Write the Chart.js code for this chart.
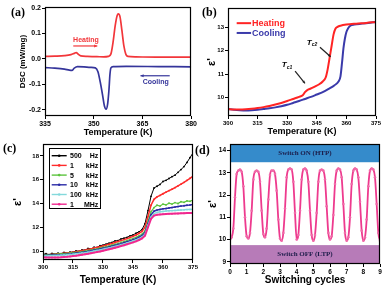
<!DOCTYPE html>
<html>
<head>
<meta charset="utf-8">
<script src="https://cdn.jsdelivr.net/npm/chart.js@4.4.1/dist/chart.umd.min.js"></script>
<style>
  body { margin: 0; background: #fff; width: 391px; height: 291px; overflow: hidden; position: relative; }
  canvas { position: absolute; }
  .tag { position: absolute; font: bold 12px "Liberation Serif", "Times New Roman", serif; line-height: 12px; color: #000; }
</style>
</head>
<body>
<canvas id="chartA" width="198" height="142" style="left:0;top:0"></canvas>
<canvas id="chartB" width="193" height="142" style="left:198px;top:0"></canvas>
<canvas id="chartC" width="199" height="153" style="left:0;top:138px"></canvas>
<canvas id="chartD" width="193" height="153" style="left:198px;top:138px"></canvas>
<div class="tag" style="left:11px;top:6px">(a)</div>
<div class="tag" style="left:202px;top:6px">(b)</div>
<div class="tag" style="left:3px;top:142px">(c)</div>
<div class="tag" style="left:195px;top:144px">(d)</div>
<script>
// (a) DSC
const dscHeatT = [335, 338, 341, 343, 344, 344.6, 345.3, 346, 348, 351, 353, 354.5, 355.3, 356, 356.6, 357.2, 357.6, 358.1, 358.7, 359.3, 359.9, 360.5, 363, 370, 380];
const dscHeat = [0.010, 0.011, 0.013, 0.017, 0.022, 0.025, 0.018, 0.012, 0.010, 0.009, 0.008, 0.010, 0.020, 0.070, 0.130, 0.170, 0.177, 0.165, 0.110, 0.050, 0.018, 0.010, 0.008, 0.007, 0.007];
const dscCoolT = [335, 338, 341, 342.5, 343.3, 344, 345, 347, 349, 350.5, 351.3, 352, 352.7, 353.3, 353.8, 354.3, 354.7, 355.0, 355.3, 356, 360, 370, 380];
const dscCool = [-0.034, -0.036, -0.040, -0.044, -0.045, -0.036, -0.030, -0.031, -0.033, -0.035, -0.050, -0.090, -0.140, -0.185, -0.197, -0.175, -0.120, -0.060, -0.035, -0.030, -0.029, -0.030, -0.031];

// (b) permittivity, heating / cooling
const epsHeatT = [300, 303, 306, 309, 312, 315, 318, 321, 324, 327, 330, 333, 336, 338, 339, 340, 342, 344, 346, 348, 349.5, 350.5, 351.5, 352.5, 353.5, 354.5, 355.5, 357, 360, 365, 370, 375];
const epsHeat = [9.50, 9.48, 9.48, 9.49, 9.51, 9.54, 9.58, 9.63, 9.69, 9.76, 9.84, 9.93, 10.02, 10.10, 10.22, 10.30, 10.38, 10.46, 10.55, 10.68, 10.85, 11.20, 11.70, 12.20, 12.70, 12.95, 13.02, 13.07, 13.12, 13.16, 13.19, 13.23];
const epsCoolT = [300, 303, 306, 309, 312, 315, 318, 321, 324, 327, 330, 333, 336, 339, 342, 345, 348, 351, 354, 356, 357, 357.8, 358.5, 359.2, 360, 360.8, 362, 364, 368, 372, 375];
const epsCool = [9.50, 9.47, 9.45, 9.44, 9.45, 9.47, 9.50, 9.53, 9.57, 9.62, 9.68, 9.76, 9.84, 9.93, 10.02, 10.12, 10.22, 10.36, 10.52, 10.68, 10.90, 11.50, 12.10, 12.50, 12.80, 12.95, 13.07, 13.12, 13.16, 13.20, 13.23];

// (c) frequency dependence, sampled every 1.5 K from 300 K
const tempStart = 300, tempStep = 1.5;
const freqNames = ['500 Hz', '1 kHz', '5 kHz', '10 kHz', '100 kHz', '1 MHz'];
const freqColors = ['#000000', '#ff2b2b', '#5cc43e', '#2b2ba6', '#84d9dc', '#f0288f'];
const eps500Hz = [9.72, 9.78, 9.70, 9.80, 9.74, 9.82, 9.78, 9.88, 9.83, 9.92, 9.90, 10.02, 9.98, 10.10, 10.08, 10.22, 10.18, 10.32, 10.30, 10.45, 10.50, 10.58, 10.66, 10.72, 10.85, 10.88, 11.02, 11.08, 11.15, 11.28, 11.35, 11.50, 11.62, 11.80, 12.30, 13.40, 14.60, 15.30, 15.45, 15.60, 15.85, 15.95, 16.10, 16.25, 16.38, 16.62, 16.85, 17.10, 17.45, 17.85, 18.25];
const eps1kHz = [9.68, 9.70, 9.69, 9.72, 9.73, 9.76, 9.77, 9.81, 9.83, 9.87, 9.90, 9.95, 9.98, 10.04, 10.08, 10.14, 10.18, 10.25, 10.30, 10.37, 10.43, 10.50, 10.57, 10.64, 10.72, 10.80, 10.88, 10.96, 11.05, 11.14, 11.24, 11.35, 11.48, 11.65, 12.00, 12.90, 13.85, 14.35, 14.55, 14.68, 14.82, 14.95, 15.08, 15.20, 15.33, 15.48, 15.62, 15.78, 15.95, 16.12, 16.30];
const eps5kHz = [9.70, 9.68, 9.71, 9.70, 9.73, 9.74, 9.76, 9.78, 9.80, 9.83, 9.86, 9.89, 9.92, 9.96, 10.00, 10.05, 10.09, 10.14, 10.19, 10.25, 10.31, 10.37, 10.43, 10.50, 10.57, 10.64, 10.72, 10.80, 10.88, 10.97, 11.06, 11.16, 11.28, 11.42, 11.70, 12.50, 13.30, 13.65, 13.85, 13.78, 13.95, 13.88, 14.02, 13.95, 14.08, 14.00, 14.15, 14.10, 14.22, 14.18, 14.30];
const eps10kHz = [9.64, 9.63, 9.64, 9.65, 9.66, 9.67, 9.69, 9.71, 9.73, 9.76, 9.79, 9.82, 9.85, 9.89, 9.93, 9.97, 10.02, 10.07, 10.12, 10.17, 10.23, 10.29, 10.35, 10.41, 10.48, 10.55, 10.62, 10.70, 10.78, 10.86, 10.95, 11.05, 11.16, 11.29, 11.55, 12.30, 13.05, 13.35, 13.45, 13.50, 13.55, 13.58, 13.62, 13.66, 13.70, 13.74, 13.78, 13.81, 13.85, 13.88, 13.92];
const eps100kHz = [9.60, 9.59, 9.60, 9.61, 9.62, 9.63, 9.65, 9.67, 9.69, 9.72, 9.74, 9.77, 9.80, 9.84, 9.87, 9.91, 9.95, 10.00, 10.05, 10.10, 10.15, 10.21, 10.27, 10.33, 10.39, 10.46, 10.53, 10.60, 10.68, 10.76, 10.85, 10.94, 11.05, 11.18, 11.42, 12.15, 12.85, 13.15, 13.25, 13.30, 13.33, 13.36, 13.38, 13.40, 13.42, 13.44, 13.46, 13.47, 13.49, 13.50, 13.52];
const eps1MHz = [9.48, 9.46, 9.45, 9.45, 9.46, 9.47, 9.48, 9.50, 9.52, 9.55, 9.58, 9.61, 9.65, 9.69, 9.73, 9.77, 9.82, 9.87, 9.92, 9.97, 10.03, 10.09, 10.15, 10.21, 10.28, 10.35, 10.42, 10.49, 10.57, 10.65, 10.73, 10.82, 10.93, 11.06, 11.30, 12.00, 12.70, 12.98, 13.05, 13.08, 13.10, 13.12, 13.13, 13.14, 13.15, 13.16, 13.17, 13.18, 13.19, 13.20, 13.20];
const freqSeries = [eps500Hz, eps1kHz, eps5kHz, eps10kHz, eps100kHz, eps1MHz];

// (d) switching, sampled every 0.1 cycle
const cycleStep = 0.1;
const switchEps = [
  10.00, 10.10, 10.50, 11.90, 12.95, 13.10, 13.15, 13.05, 12.40, 11.00,
  10.15, 10.05, 10.30, 11.30, 12.70, 13.05, 13.10, 13.05, 12.60, 11.30,
  10.25, 10.10, 10.50, 11.80, 12.90, 13.10, 13.10, 12.95, 12.20, 10.90,
  10.05, 9.95, 10.30, 11.40, 12.80, 13.15, 13.20, 13.15, 12.60, 11.20,
  10.00, 10.20, 11.30, 12.70, 13.15, 13.20, 13.10, 12.60, 11.30, 10.20,
  9.95, 10.20, 11.20, 12.60, 13.10, 13.15, 13.10, 12.70, 11.50, 10.30,
  10.00, 10.15, 11.10, 12.50, 13.10, 13.20, 13.15, 12.80, 11.60, 10.30,
  9.95, 10.10, 11.00, 12.50, 13.10, 13.20, 13.15, 12.80, 11.70, 10.40,
  9.95, 10.10, 10.90, 12.40, 13.10, 13.20, 13.15, 12.80, 11.60, 10.30,
  9.95
];
const onBandFrom = 13.48, offBandTo = 9.75;

Chart.defaults.font.family = "'Liberation Sans', Arial, sans-serif";
Chart.defaults.color = '#000';

function pts(xs, ys) {
  return ys.map((y, i) => ({ x: xs[i], y: y }));
}

const framePlugin = {
  id: 'frame',
  afterDatasetsDraw(chart) {
    const a = chart.chartArea, ctx = chart.ctx;
    ctx.save();
    ctx.strokeStyle = '#000';
    ctx.lineWidth = 1.2;
    ctx.strokeRect(Math.round(a.left) + 0.5, Math.round(a.top) + 0.5, Math.round(a.right - a.left) - 1, Math.round(a.bottom - a.top) - 1);
    ctx.restore();
  }
};

function arrow(ctx, x1, y1, x2, y2, color, head) {
  ctx.save();
  ctx.strokeStyle = color;
  ctx.fillStyle = color;
  ctx.lineWidth = 1.2;
  ctx.beginPath(); ctx.moveTo(x1, y1); ctx.lineTo(x2, y2); ctx.stroke();
  const ang = Math.atan2(y2 - y1, x2 - x1);
  ctx.beginPath();
  ctx.moveTo(x2, y2);
  ctx.lineTo(x2 - head * Math.cos(ang - 0.45), y2 - head * Math.sin(ang - 0.45));
  ctx.lineTo(x2 - head * Math.cos(ang + 0.45), y2 - head * Math.sin(ang + 0.45));
  ctx.closePath(); ctx.fill();
  ctx.restore();
}

function makeScales(p) {
  return {
    x: {
      type: 'linear', min: p.xMin, max: p.xMax,
      ticks: { stepSize: p.xStep, includeBounds: false, autoSkip: false, maxRotation: 0, padding: 1, font: { size: p.tick, weight: 'bold' } },
      grid: { drawOnChartArea: false, tickLength: 3, color: '#000' },
      border: { display: false },
      title: { display: true, text: p.xTitle, padding: 0, font: { size: p.xTitleSize, weight: 'bold' } },
      afterFit: s => { s.height = p.xH; }
    },
    y: {
      type: 'linear', min: p.yMin, max: p.yMax,
      ticks: { stepSize: p.yStep, includeBounds: false, autoSkip: false, padding: 1, font: { size: p.tick, weight: 'bold' },
               callback: v => p.yFmt ? v.toFixed(1) : v },
      grid: { drawOnChartArea: false, tickLength: 3, color: '#000' },
      border: { display: false },
      title: { display: true, text: p.yTitle, padding: 0, font: { size: p.yTitleSize, weight: 'bold' } },
      afterFit: s => { s.width = p.yW; }
    }
  };
}

const baseOpts = {
  responsive: false,
  animation: false,
  events: [],
  plugins: { legend: { display: false }, tooltip: { enabled: false } }
};

// ---------- (a)
new Chart(document.getElementById('chartA'), {
  type: 'line',
  data: {
    datasets: [
      { data: pts(dscHeatT, dscHeat), borderColor: '#f2363a', borderWidth: 1.7, pointRadius: 0, cubicInterpolationMode: 'monotone' },
      { data: pts(dscCoolT, dscCool), borderColor: '#35359b', borderWidth: 1.7, pointRadius: 0, cubicInterpolationMode: 'monotone' }
    ]
  },
  options: Object.assign({}, baseOpts, {
    layout: { padding: { left: 18.2, top: 7, right: 6, bottom: 3.6 } },
    scales: makeScales({ xMin: 335, xMax: 380, xStep: 15, yMin: -0.224, yMax: 0.204, yStep: 0.1, yFmt: true, tick: 7,
      xTitle: 'Temperature (K)', xTitleSize: 9, yTitle: 'DSC (mW/mg)', yTitleSize: 8, xH: 22.4, yW: 26.8 })
  }),
  plugins: [framePlugin, {
    id: 'notesA',
    afterDatasetsDraw(chart) {
      const ctx = chart.ctx, sx = chart.scales.x, sy = chart.scales.y;
      ctx.save();
      ctx.font = "bold 7px 'Liberation Sans', Arial, sans-serif";
      ctx.textAlign = 'center';
      ctx.textBaseline = 'middle';
      ctx.fillStyle = '#f2363a';
      ctx.fillText('Heating', sx.getPixelForValue(347.6), sy.getPixelForValue(0.0735));
      arrow(ctx, sx.getPixelForValue(343.7), sy.getPixelForValue(0.051), sx.getPixelForValue(351.1), sy.getPixelForValue(0.051), '#f2363a', 3.5);
      ctx.fillStyle = '#35359b';
      ctx.fillText('Cooling', sx.getPixelForValue(369.1), sy.getPixelForValue(-0.0897));
      arrow(ctx, sx.getPixelForValue(373.4), sy.getPixelForValue(-0.066), sx.getPixelForValue(364.4), sy.getPixelForValue(-0.066), '#35359b', 3.5);
      ctx.restore();
    }
  }]
});

// ---------- (b)
new Chart(document.getElementById('chartB'), {
  type: 'line',
  data: {
    datasets: [
      { data: pts(epsHeatT, epsHeat), borderColor: '#ff2424', borderWidth: 2, pointRadius: 0, cubicInterpolationMode: 'monotone' },
      { data: pts(epsCoolT, epsCool), borderColor: '#3a3aaa', borderWidth: 2, pointRadius: 0, cubicInterpolationMode: 'monotone' }
    ]
  },
  options: Object.assign({}, baseOpts, {
    layout: { padding: { left: 7.1, top: 8, right: 15, bottom: 4.6 } },
    scales: makeScales({ xMin: 300, xMax: 375, xStep: 15, yMin: 9.2, yMax: 13.83, yStep: 1, tick: 6,
      xTitle: 'Temperature (K)', xTitleSize: 9, yTitle: "ε'", yTitleSize: 11, xH: 21.4, yW: 22.9 })
  }),
  plugins: [framePlugin, {
    id: 'notesB',
    afterDatasetsDraw(chart) {
      const ctx = chart.ctx, sx = chart.scales.x, sy = chart.scales.y;
      ctx.save();
      const rows = [['Heating', '#ff2424', 13.18], ['Cooling', '#3a3aaa', 12.76]];
      ctx.font = "bold 9px 'Liberation Sans', Arial, sans-serif";
      ctx.textBaseline = 'middle';
      rows.forEach(r => {
        const y = sy.getPixelForValue(r[2]);
        ctx.strokeStyle = r[1]; ctx.lineWidth = 2;
        ctx.beginPath(); ctx.moveTo(sx.getPixelForValue(304.4), y); ctx.lineTo(sx.getPixelForValue(311.7), y); ctx.stroke();
        ctx.fillStyle = r[1];
        ctx.fillText(r[0], sx.getPixelForValue(312.2), y + 0.5);
      });
      // Tc labels
      ctx.fillStyle = '#000';
      const tc = [['c2', 342.4, 12.34], ['c1', 329.8, 11.38]];
      tc.forEach(t => {
        const x = sx.getPixelForValue(t[1]) - 5, y = sy.getPixelForValue(t[2]);
        ctx.font = "italic bold 8px 'Liberation Sans', Arial, sans-serif";
        ctx.fillText('T', x, y);
        ctx.font = "italic bold 5px 'Liberation Sans', Arial, sans-serif";
        ctx.fillText(t[0], x + 5, y + 2);
      });
      arrow(ctx, sx.getPixelForValue(346.6), sy.getPixelForValue(12.15), sx.getPixelForValue(352.0), sy.getPixelForValue(11.74), '#222', 3);
      arrow(ctx, sx.getPixelForValue(334), sy.getPixelForValue(11.12), sx.getPixelForValue(339), sy.getPixelForValue(10.6), '#222', 3);
      ctx.restore();
    }
  }]
});

// ---------- (c)
const tempC = eps500Hz.map((v, i) => tempStart + i * tempStep);
const widthsC = [1, 1.5, 1.2, 1.5, 1.5, 2];
new Chart(document.getElementById('chartC'), {
  type: 'line',
  data: {
    datasets: freqSeries.map((s, k) => ({
      label: freqNames[k], data: pts(tempC, s), borderColor: freqColors[k], backgroundColor: freqColors[k],
      borderWidth: widthsC[k], pointRadius: 0.9, pointBorderWidth: 0, tension: 0
    })).reverse()
  },
  options: Object.assign({}, baseOpts, {
    layout: { padding: { left: 11.7, top: 6, right: 6, bottom: 5 } },
    scales: makeScales({ xMin: 300, xMax: 375, xStep: 15, yMin: 9.25, yMax: 19, yStep: 2, tick: 6,
      xTitle: 'Temperature (K)', xTitleSize: 10, yTitle: "ε'", yTitleSize: 11, xH: 26, yW: 31.3 })
  }),
  plugins: [framePlugin, {
    id: 'legendC',
    afterDatasetsDraw(chart) {
      const ctx = chart.ctx, a = chart.chartArea;
      ctx.save();
      ctx.fillStyle = '#fff';
      ctx.fillRect(a.left + 6, a.top + 4, 51, 60);
      ctx.strokeStyle = '#000'; ctx.lineWidth = 1;
      ctx.strokeRect(Math.round(a.left + 6) + 0.5, Math.round(a.top + 4) + 0.5, 51, 60);
      ctx.font = "bold 7px 'Liberation Sans', Arial, sans-serif";
      ctx.textBaseline = 'middle';
      freqNames.forEach((name, k) => {
        const y = a.top + 11.7 + k * 9.7;
        ctx.strokeStyle = freqColors[k]; ctx.lineWidth = 1.4;
        ctx.beginPath(); ctx.moveTo(a.left + 8.7, y); ctx.lineTo(a.left + 23.7, y); ctx.stroke();
        ctx.fillStyle = freqColors[k];
        ctx.beginPath(); ctx.arc(a.left + 16.2, y, 1.3, 0, Math.PI * 2); ctx.fill();
        const parts = name.split(' ');
        ctx.fillStyle = '#000';
        ctx.textAlign = 'left';
        ctx.fillText(parts[0], a.left + 27, y + 0.5);
        ctx.textAlign = 'right';
        ctx.fillText(parts[1], a.left + 55.3, y + 0.5);
      });
      ctx.restore();
    }
  }]
});

// ---------- (d)
const cycleX = switchEps.map((v, i) => i * cycleStep);
new Chart(document.getElementById('chartD'), {
  type: 'line',
  data: {
    datasets: [{
      data: pts(cycleX, switchEps), borderColor: '#ee3a8e', backgroundColor: '#f06aa8',
      borderWidth: 1.8, pointRadius: 1.3, pointBorderWidth: 0, cubicInterpolationMode: 'monotone'
    }]
  },
  options: Object.assign({}, baseOpts, {
    layout: { padding: { left: 8.7, top: 6, right: 11, bottom: 5 } },
    scales: makeScales({ xMin: 0, xMax: 9, xStep: 1, yMin: 8.9, yMax: 14.3, yStep: 1, tick: 6.5,
      xTitle: 'Switching cycles', xTitleSize: 10, yTitle: "ε'", yTitleSize: 11, xH: 22, yW: 23.3 })
  }),
  plugins: [{
    id: 'bandsD',
    beforeDatasetsDraw(chart) {
      const ctx = chart.ctx, a = chart.chartArea, sy = chart.scales.y;
      const yOn = sy.getPixelForValue(onBandFrom), yOff = sy.getPixelForValue(offBandTo);
      ctx.save();
      ctx.fillStyle = '#358bcb';
      ctx.fillRect(a.left, a.top, a.right - a.left, yOn - a.top);
      ctx.fillStyle = '#b77bb8';
      ctx.fillRect(a.left, yOff, a.right - a.left, a.bottom - yOff);
      ctx.font = "bold 7px 'Liberation Serif', 'Times New Roman', serif";
      ctx.textAlign = 'center';
      ctx.textBaseline = 'middle';
      ctx.fillStyle = '#1b1b48';
      const cx = (a.left + a.right) / 2;
      ctx.fillText('Switch ON (HTP)', cx, (a.top + yOn) / 2);
      ctx.fillText('Switch OFF (LTP)', cx, (yOff + a.bottom) / 2);
      ctx.restore();
    }
  }, framePlugin]
});
</script>
</body>
</html>
